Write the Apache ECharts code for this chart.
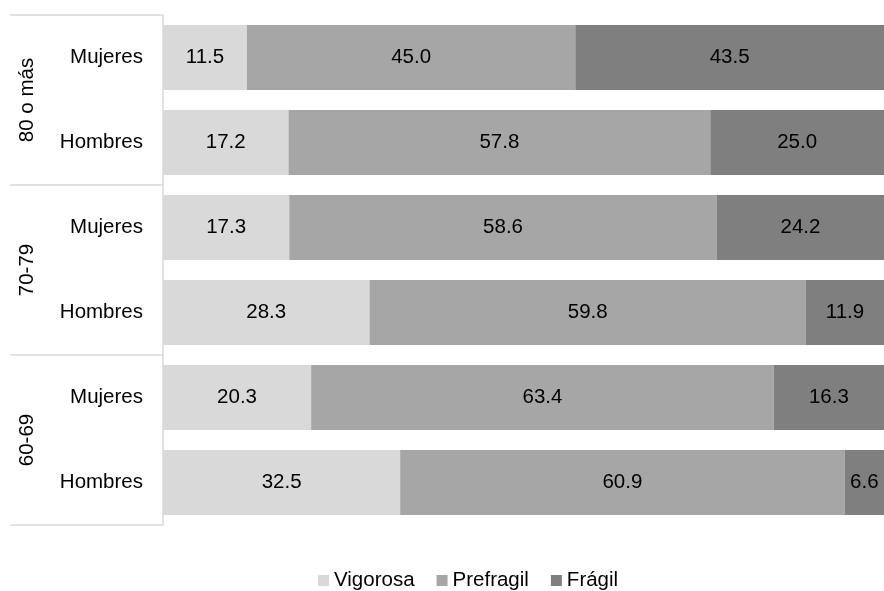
<!DOCTYPE html>
<html>
<head>
<meta charset="utf-8">
<script src="https://cdn.jsdelivr.net/npm/echarts@6/dist/echarts.min.js"></script>
<style>
html,body{margin:0;padding:0;background:#fff;}
#main{width:884px;height:591px;}
</style>
</head>
<body>
<div id="main"></div>
<script>
// filas de abajo hacia arriba
let rows = ['Hombres', 'Mujeres', 'Hombres', 'Mujeres', 'Hombres', 'Mujeres'];
let groups = ['60-69', '70-79', '80 o más'];
let seriesNames = ['Vigorosa', 'Prefragil', 'Frágil'];
let vigorosa = [32.5, 20.3, 28.3, 17.3, 17.2, 11.5];
let prefragil = [60.9, 63.4, 59.8, 58.6, 57.8, 45.0];
let fragil = [6.6, 16.3, 11.9, 24.2, 25.0, 43.5];
let colors = ['#d9d9d9', '#a6a6a6', '#7f7f7f'];

window.addEventListener('load', function () {
    let chart = echarts.init(document.getElementById('main'));
    let font = 'Liberation Sans, Arial, sans-serif';
    let values = [vigorosa, prefragil, fragil];

    let series = seriesNames.map(function (name, i) {
        return {
            name: name,
            type: 'bar',
            stack: 'total',
            yAxisIndex: 0,
            barWidth: 65,
            itemStyle: {color: colors[i]},
            label: {
                show: true,
                position: 'inside',
                color: '#000',
                fontSize: 20.5,
                fontFamily: font,
                formatter: function (p) { return p.value.toFixed(1); }
            },
            data: values[i]
        };
    });

    let option = {
        backgroundColor: '#fff',
        animation: false,
        grid: {left: 163, right: 0, top: 15, bottom: 66},
        legend: {
            top: 565,
            left: 313,
            icon: 'rect',
            itemWidth: 11,
            itemHeight: 11,
            itemGap: 22,
            textStyle: {fontSize: 20.5, fontFamily: font, color: '#000'},
            data: seriesNames
        },
        // la barra se corta en el borde derecho, como en el original
        xAxis: {type: 'value', min: 0, max: 98.8, show: false},
        yAxis: [
            {
                type: 'category',
                data: rows,
                axisLine: {show: true, lineStyle: {color: '#d9d9d9', width: 1.5}},
                axisTick: {show: false},
                axisLabel: {fontSize: 20.5, fontFamily: font, color: '#000', margin: 20},
                splitLine: {show: false}
            },
            {
                type: 'category',
                data: groups,
                position: 'left',
                offset: 153,
                axisLine: {show: false},
                axisTick: {show: true, inside: true, length: 153, lineStyle: {color: '#d9d9d9', width: 1.5}},
                axisLabel: {inside: true, rotate: 90, margin: 7, fontSize: 20.5, fontFamily: font, color: '#000'},
                splitLine: {show: false}
            }
        ],
        series: series
    };
    chart.setOption(option);
});
</script>
</body>
</html>
